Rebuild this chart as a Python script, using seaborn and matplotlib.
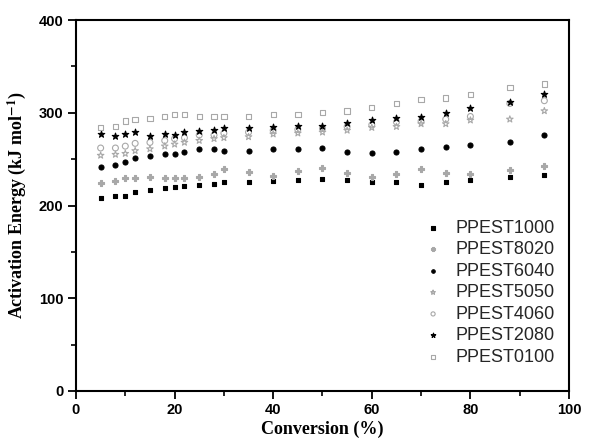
import matplotlib
matplotlib.use("Agg")
import matplotlib.pyplot as plt
import seaborn as sns

# Conversion (%)
conversion = [5, 8, 10, 12, 15, 18, 20, 22, 25, 28, 30, 35, 40, 45, 50, 55, 60, 65, 70, 75, 80, 88, 95]

# Activation energy (kJ/mol)
ppest1000 = [208, 210, 210, 215, 217, 219, 220, 221, 222, 223, 225, 225, 226, 227, 229, 228, 225, 225, 222, 225, 228, 231, 233]
ppest8020 = [224, 226, 230, 230, 231, 230, 230, 230, 231, 234, 239, 236, 232, 237, 240, 235, 231, 234, 239, 235, 234, 238, 243]
ppest6040 = [241, 244, 247, 251, 253, 255, 256, 258, 261, 261, 259, 259, 261, 261, 262, 258, 257, 258, 261, 263, 265, 268, 276]
ppest5050 = [254, 255, 256, 259, 261, 264, 266, 268, 270, 272, 273, 274, 277, 278, 279, 281, 284, 285, 288, 288, 292, 293, 302]
ppest4060 = [262, 262, 264, 267, 268, 270, 272, 273, 276, 276, 278, 279, 281, 282, 283, 285, 287, 290, 291, 293, 296, 310, 313]
ppest2080 = [277, 275, 277, 279, 275, 277, 276, 279, 280, 281, 284, 284, 285, 286, 286, 289, 292, 294, 295, 300, 305, 312, 320]
ppest0100 = [284, 285, 291, 293, 294, 296, 298, 298, 296, 296, 296, 296, 298, 298, 300, 302, 306, 310, 314, 316, 320, 327, 331]

labels = ["PPEST1000", "PPEST8020", "PPEST6040", "PPEST5050", "PPEST4060", "PPEST2080", "PPEST0100"]
series = [ppest1000, ppest8020, ppest6040, ppest5050, ppest4060, ppest2080, ppest0100]

gray = "#a8a8a8"
# (marker, facecolor, edgecolor, size)
styles = [
    ("s", "black", "black", 11),
    ("P", gray, gray, 20),
    ("o", "black", "black", 13),
    ("*", "none", gray, 24),
    ("o", "none", gray, 18),
    ("*", "black", "black", 24),
    ("s", "none", gray, 15),
]

sns.set_theme(style="ticks")
plt.rcParams["font.family"] = ["Liberation Sans", "DejaVu Sans"]
plt.rcParams["mathtext.fontset"] = "stix"

fig = plt.figure(figsize=(5.9, 4.41), dpi=100)
ax = fig.add_axes([0.1288, 0.1134, 0.8356, 0.8412])

for lab, vals, (mk, fc, ec, sz) in zip(labels, series, styles):
    sns.scatterplot(x=conversion, y=vals, ax=ax, marker=mk, s=sz,
                    facecolor=fc, edgecolor=ec, linewidth=0.8, label=lab)

ax.set_xlim(0, 100)
ax.set_ylim(0, 400)
ax.set_xticks([0, 20, 40, 60, 80, 100])
ax.set_yticks([0, 100, 200, 300, 400])
ax.set_xticks(range(10, 100, 20), minor=True)
ax.set_yticks(range(50, 400, 100), minor=True)
ax.tick_params(which="major", direction="out", length=6, width=1.3, color="black",
               labelcolor="black", labelsize=10.5, pad=3)
ax.tick_params(which="minor", direction="out", length=3.5, width=1.2, color="black")
for t in ax.get_xticklabels() + ax.get_yticklabels():
    t.set_fontweight("bold")

for sp in ax.spines.values():
    sp.set_linewidth(1.5)
    sp.set_color("black")

ax.set_xlabel("Conversion (%)", family="Liberation Serif", fontsize=13, fontweight="bold",
              labelpad=2, color="black")
ax.set_ylabel(r"Activation Energy (kJ mol$^{\mathbf{-1}}$)", family="Liberation Serif",
              fontsize=13, fontweight="bold", labelpad=8, color="black")

ax.legend(loc="upper left", bbox_to_anchor=(0.706, 0.462), frameon=False, fontsize=13,
          borderaxespad=0, borderpad=0, handlelength=1.0, handletextpad=0.75,
          labelspacing=0.25, markerscale=0.7)

fig.savefig("out.png", dpi=100)
